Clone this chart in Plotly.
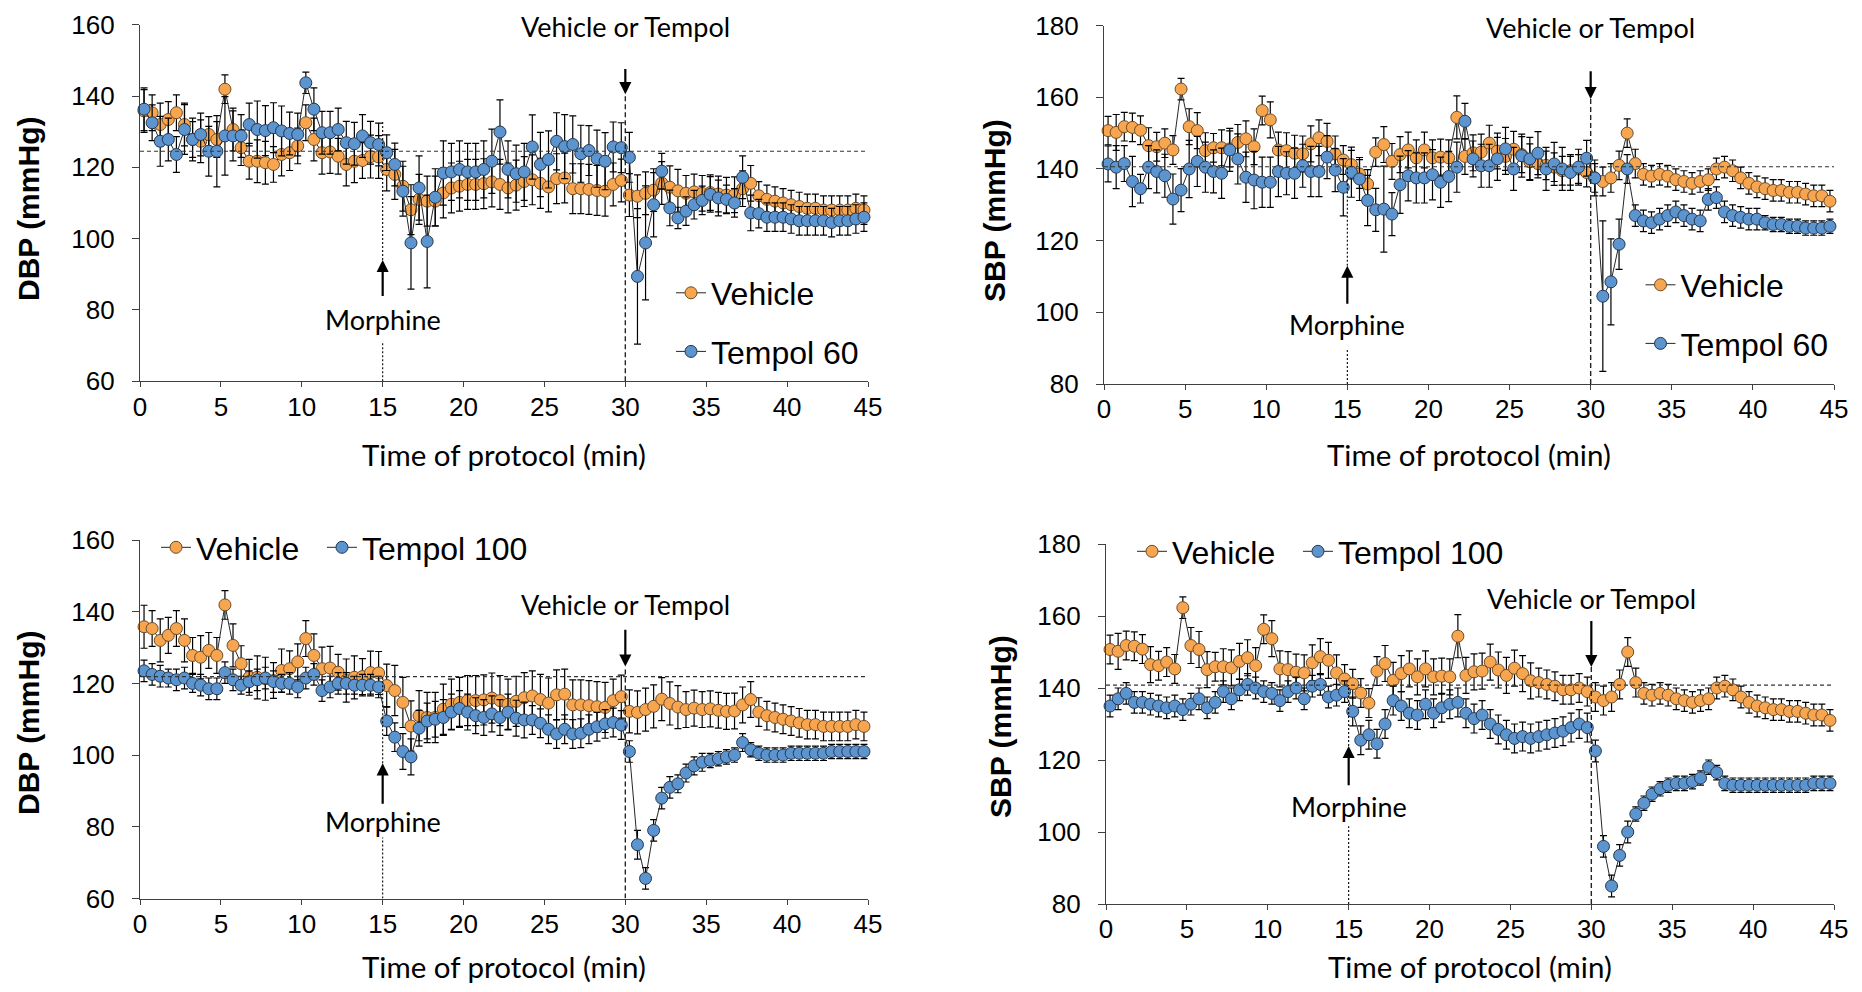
import plotly.graph_objects as go

# ---------------- data ----------------
TIME_MIN = [round(0.25 + 0.5 * i, 2) for i in range(90)]   # sampling grid, 30 s bins
X_TICKS = [0, 5, 10, 15, 20, 25, 30, 35, 40, 45]
MORPHINE_T = 15
TEMPOL_T = 30

VEH_DBP = [135.8, 135.3, 132.0, 133.4, 135.3, 132.0, 127.8, 127.3, 129.2, 127.8,
           141.9, 130.6, 125.5, 121.7, 121.7, 121.3, 120.8, 123.6, 124.1, 126.0,
           132.5, 127.8, 124.1, 124.3, 123.1, 120.8, 121.7, 121.9, 123.0, 122.9,
           119.4, 118.0, 114.7, 108.1, 111.0, 110.5, 110.5, 112.8, 114.2, 114.7,
           115.2, 115.2, 115.4, 115.9, 115.2, 114.2, 115.0, 116.0, 116.5, 115.5,
           114.5, 116.8, 117.0, 114.0, 114.0, 113.8, 113.5, 113.3, 115.2, 116.3,
           112.2, 111.9, 112.7, 113.6, 115.6, 114.4, 113.4, 112.7, 113.1, 112.7,
           112.9, 112.5, 112.2, 112.3, 114.0, 115.5, 112.0, 111.0, 110.5, 110.0,
           109.5, 109.0, 108.5, 108.5, 108.0, 108.0, 108.0, 108.0, 108.5, 108.0]
VEH_DBP_ERR = [6, 5, 6, 5, 5, 6, 5, 6, 5, 5,
               4, 6, 5, 5, 6, 6, 5, 6, 5, 5,
               5, 6, 6, 6, 5, 6, 6, 5, 6, 6,
               6, 7, 7, 7, 7, 7, 7, 7, 7, 7,
               7, 7, 7, 7, 7, 7, 7, 7, 7, 7,
               7, 7, 7, 7, 7, 7, 7, 7, 6, 6,
               6, 6, 6, 6, 6, 6, 6, 5, 5, 5,
               5, 5, 5, 5, 5, 5, 4, 4, 4, 4,
               4, 4, 4, 4, 4, 4, 4, 4, 4, 4]

T60_DBP = [136.3, 132.5, 127.3, 127.8, 123.6, 130.6, 127.8, 129.2, 124.5, 124.5,
           128.8, 128.8, 128.8, 132.0, 130.6, 130.3, 131.1, 130.2, 129.5, 129.2,
           143.7, 136.3, 129.7, 129.7, 130.6, 126.9, 126.6, 128.8, 126.9, 126.4,
           124.1, 120.8, 113.3, 98.8, 114.2, 99.2, 111.6, 118.4, 118.7, 119.4,
           118.7, 118.7, 119.4, 121.7, 129.9, 119.4, 118.2, 118.7, 125.7, 120.8,
           122.2, 127.3, 125.8, 126.4, 123.8, 124.7, 122.4, 121.7, 125.7, 125.5,
           122.8, 89.4, 98.8, 109.5, 118.9, 108.6, 105.8, 107.7, 109.5, 110.7,
           112.4, 111.4, 111.0, 110.0, 117.2, 107.2, 107.0, 106.0, 106.0, 106.0,
           105.5, 105.0, 105.0, 105.0, 105.0, 104.5, 105.0, 105.0, 105.5, 106.0]
T60_DBP_ERR = [6, 5, 7, 6, 5, 7, 6, 6, 7, 10,
               11, 7, 6, 6, 8, 7, 7, 7, 6, 6,
               3, 6, 6, 6, 6, 6, 6, 6, 6, 6,
               5, 6, 7, 13, 9, 13, 8, 9, 8, 8,
               8, 8, 8, 9, 9, 8, 8, 8, 9, 9,
               8, 8, 9, 8, 8, 7, 8, 8, 7, 7,
               7, 19, 16, 9, 5, 5, 3, 4, 4, 4,
               5, 5, 4, 4, 6, 5, 4, 4, 4, 4,
               4, 4, 4, 4, 4, 4, 4, 4, 4, 4]

VEH_SBP = [150.7, 150.2, 151.8, 151.6, 150.8, 146.5, 146.2, 147.2, 145.3, 162.3,
           151.8, 150.7, 145.1, 145.9, 145.9, 145.6, 147.4, 148.4, 146.2, 156.3,
           153.7, 145.3, 145.1, 144.4, 144.2, 147.0, 148.7, 147.7, 144.2, 142.5,
           141.2, 138.6, 135.8, 144.7, 146.8, 142.1, 144.0, 145.3, 143.1, 145.3,
           143.1, 143.3, 143.1, 154.4, 143.5, 144.5, 144.7, 147.2, 145.0, 143.5,
           145.5, 144.0, 142.0, 141.5, 141.0, 140.5, 139.5, 139.5, 140.0, 139.0,
           137.5, 136.5, 137.5, 141.0, 150.0, 141.5, 138.5, 138.0, 138.5, 138.0,
           137.0, 136.5, 136.0, 136.5, 137.0, 140.0, 140.5, 139.5, 137.5, 136.0,
           135.0, 134.5, 134.0, 134.0, 133.5, 133.5, 133.0, 132.5, 132.5, 131.0]
VEH_SBP_ERR = [4, 5, 4, 4, 4, 5, 4, 4, 4, 3,
               5, 5, 5, 4, 5, 5, 5, 5, 5, 4,
               5, 5, 5, 5, 5, 5, 5, 5, 5, 4,
               4, 4, 4, 4, 5, 5, 5, 5, 5, 5,
               5, 5, 5, 6, 5, 5, 5, 5, 5, 5,
               5, 5, 5, 4, 4, 4, 4, 4, 4, 4,
               4, 4, 4, 4, 4, 4, 3, 3, 3, 3,
               3, 3, 3, 3, 3, 3, 3, 3, 3, 3,
               3, 3, 3, 3, 3, 3, 3, 3, 3, 3]

T60_SBP = [141.4, 140.5, 141.5, 136.5, 134.5, 140.5, 139.3, 138.1, 131.6, 134.1,
           140.0, 142.1, 140.5, 139.3, 138.8, 145.3, 142.8, 137.7, 136.9, 136.3,
           136.3, 139.3, 138.8, 138.8, 140.9, 139.3, 139.3, 143.3, 139.7, 134.9,
           139.1, 137.2, 131.2, 128.6, 128.8, 127.4, 135.6, 138.1, 137.5, 137.5,
           138.4, 136.3, 137.9, 140.5, 153.3, 142.8, 140.9, 140.9, 142.8, 145.6,
           140.0, 143.7, 142.8, 144.4, 140.0, 141.4, 140.0, 139.0, 140.5, 143.0,
           137.5, 104.5, 108.5, 119.0, 140.0, 127.0, 125.5, 125.0, 126.0, 127.0,
           128.0, 127.0, 126.0, 125.5, 131.5, 132.0, 128.0, 127.0, 126.5, 126.0,
           126.0, 125.0, 124.5, 124.5, 124.0, 124.0, 123.5, 123.5, 123.5, 124.0]
T60_SBP_ERR = [5, 6, 5, 7, 4, 6, 6, 6, 7, 6,
               8, 7, 7, 6, 7, 6, 7, 7, 8, 7,
               7, 7, 6, 7, 6, 7, 7, 6, 6, 8,
               7, 6, 7, 6, 12, 6, 8, 7, 7, 7,
               7, 7, 7, 7, 5, 5, 6, 6, 6, 6,
               6, 6, 6, 6, 6, 6, 6, 5, 5, 5,
               5, 21, 12, 7, 4, 3, 3, 3, 3, 3,
               3, 3, 3, 3, 3, 3, 3, 3, 3, 3,
               3, 2, 2, 2, 2, 2, 2, 2, 2, 2]

T100_DBP = [123.5, 122.5, 122.0, 121.5, 121.0, 121.5, 120.0, 119.5, 118.5, 118.5,
            123.0, 121.0, 119.5, 120.5, 121.0, 121.5, 120.5, 120.0, 120.0, 119.0,
            121.5, 122.5, 118.0, 119.0, 120.0, 120.0, 119.5, 119.5, 119.5, 119.0,
            109.5, 105.0, 101.0, 99.5, 107.5, 109.5, 110.0, 110.5, 112.0, 113.0,
            112.0, 111.0, 110.5, 111.5, 110.5, 112.0, 110.3, 109.8, 109.8, 108.9,
            107.2, 105.9, 107.2, 105.9, 106.1, 107.2, 107.9, 108.7, 109.1, 108.4,
            101.0, 75.0, 65.6, 79.0, 88.0, 91.0, 92.0, 95.0, 97.0, 98.0,
            98.5, 99.0, 99.5, 100.0, 103.5, 101.5, 100.5, 100.0, 100.0, 100.0,
            100.5, 100.5, 100.5, 100.5, 100.5, 101.0, 101.0, 101.0, 101.0, 101.0]
T100_DBP_ERR = [3, 3, 3, 2.5, 3, 3, 2.5, 3, 3, 3,
                3, 3, 2.5, 3, 3, 3, 3, 2.5, 3, 3,
                3, 3, 3, 3, 3, 3, 2.5, 3, 3, 3,
                4, 4, 5, 5, 5, 5, 5, 5, 5, 5,
                5, 5, 5, 5, 5, 5, 5, 5, 4, 4,
                4, 4, 4, 4, 4, 4, 4, 4, 4, 4,
                3, 4, 3, 3, 3, 3, 2.5, 2.5, 2.5, 2.5,
                2, 2, 2, 2, 2.5, 2, 2, 2, 2, 2,
                2, 2, 2, 2, 2, 2, 2, 2, 2, 2]

T100_SBP = [135.0, 137.0, 138.5, 136.0, 136.0, 135.5, 135.0, 134.5, 135.0, 134.0,
            135.5, 137.0, 134.5, 136.0, 139.0, 137.0, 139.5, 141.0, 140.0, 139.0,
            138.5, 136.5, 139.0, 140.0, 137.0, 140.5, 141.0, 137.5, 138.0, 139.0,
            133.5, 125.5, 127.0, 124.5, 130.0, 136.5, 135.0, 133.0, 132.5, 135.5,
            133.0, 134.5, 135.5, 136.0, 133.0, 131.5, 132.5, 130.0, 128.5, 127.0,
            126.0, 126.5, 126.0, 126.5, 127.0, 127.5, 128.0, 129.0, 130.0, 129.0,
            122.5, 96.0, 85.0, 93.5, 100.0, 105.0, 108.0, 110.5, 112.0, 113.0,
            113.5, 113.5, 114.0, 115.0, 118.0, 116.5, 113.5, 113.0, 113.0, 113.0,
            113.0, 113.0, 113.0, 113.0, 113.0, 113.0, 113.0, 113.5, 113.5, 113.5]
T100_SBP_ERR = [3, 3, 3, 3, 3, 3, 3, 3, 3, 3,
                3, 3, 3, 3, 3, 3, 3, 3, 3, 3,
                3, 3, 3, 3, 3, 3, 3, 3, 3, 3,
                4, 4, 4, 4, 4, 4, 4, 4, 4, 4,
                4, 4, 4, 4, 4, 4, 4, 4, 4, 4,
                4, 4, 4, 4, 4, 4, 4, 4, 4, 4,
                3, 3, 3, 3, 3, 2, 2, 2, 2, 2,
                2, 2, 2, 2, 2, 2, 2, 2, 2, 2,
                2, 2, 2, 2, 2, 2, 2, 2, 2, 2]

# ---------------- styling / layout ----------------
PAGE_W, PAGE_H = 1862, 992
BODY_MARGIN = 8                       # default page margin around the plot div
W, H = PAGE_W - 2 * BODY_MARGIN, PAGE_H - 2 * BODY_MARGIN
ORANGE, ORANGE_EDGE = '#F8A54F', '#6b4c2a'
BLUE, BLUE_EDGE = '#5B94CF', '#26384d'
AX_FONT = 'Liberation Sans, Arial, sans-serif'
NOTE_FONT = 'Lato, Open Sans, sans-serif'
NBSP = '\u00a0'


def px_x(p):
    return (p - BODY_MARGIN) / W


def px_y(p):
    return 1 - (p - BODY_MARGIN) / H


panels = [
    dict(ax='', ylab='DBP (mmHg)', yr=[60, 160], xdom=[140, 868], ydom=[381.2, 24.7],
         veh=VEH_DBP, veh_err=VEH_DBP_ERR, tem=T60_DBP, tem_err=T60_DBP_ERR, tem_name='Tempol 60',
         veh_name='Vehicle',
         legend='legend', base=124.5, m_top=133, m_head=94, m_tail=83.5, m_text=77.2, m_low=71,
         v_text=159.6, v_tail=148, v_head=140.5, ylab_pos=(28, 209), xlab_y=455),
    dict(ax='2', ylab='SBP (mmHg)', yr=[80, 180], xdom=[1104, 1834], ydom=[384, 25.6],
         veh=VEH_SBP, veh_err=VEH_SBP_ERR, tem=T60_SBP, tem_err=T60_SBP_ERR, tem_name='Tempol 60',
         veh_name='Vehicle',
         legend='legend2', base=140.6, m_top=141, m_head=113, m_tail=102, m_text=96.6, m_low=90,
         v_text=179.6, v_tail=167.7, v_head=159.5, ylab_pos=(995, 211), xlab_y=455),
    dict(ax='3', ylab='DBP (mmHg)', yr=[60, 160], xdom=[140, 868], ydom=[898.5, 540],
         veh=VEH_DBP, veh_err=VEH_DBP_ERR, tem=T100_DBP, tem_err=T100_DBP_ERR, tem_name='Tempol 100',
         veh_name='Vehicle' + NBSP * 2,
         legend='legend3', base=121.9, m_top=121.9, m_head=97.7, m_tail=86, m_text=81.5, m_low=77,
         v_text=142.1, v_tail=135.4, v_head=124.7, ylab_pos=(28, 723), xlab_y=966),
    dict(ax='4', ylab='SBP (mmHg)', yr=[80, 180], xdom=[1106, 1834], ydom=[904, 544],
         veh=VEH_SBP, veh_err=VEH_SBP_ERR, tem=T100_SBP, tem_err=T100_SBP_ERR, tem_name='Tempol 100',
         veh_name='Vehicle' + NBSP * 2,
         legend='legend4', base=140.8, m_top=140.8, m_head=123.9, m_tail=112.6, m_text=107.2, m_low=101.6,
         v_text=165, v_tail=159, v_head=145.8, ylab_pos=(1000, 726), xlab_y=966),
]

fig = go.Figure()
shapes, annotations = [], []
layout_axes = {}

for i, p in enumerate(panels):
    xa, ya = 'x' + p['ax'], 'y' + p['ax']
    for name, vals, err, fill, edge in [(p['veh_name'], p['veh'], p['veh_err'], ORANGE, ORANGE_EDGE),
                                        (p['tem_name'], p['tem'], p['tem_err'], BLUE, BLUE_EDGE)]:
        fig.add_trace(go.Scatter(
            x=TIME_MIN, y=vals, mode='lines+markers', name=name,
            xaxis=xa, yaxis=ya, legend=p['legend'], legendgroup=f'{i}-{name}',
            line=dict(color='#262626', width=1),
            marker=dict(size=12, color=fill, line=dict(color=edge, width=1)),
            error_y=dict(type='data', array=err, visible=True, color='black', thickness=1.2, width=3.5),
            cliponaxis=False,
        ))

    axis_common = dict(showgrid=False, zeroline=False, showline=True, linecolor='#404040', linewidth=1.3,
                       ticks='outside', tickcolor='#404040', tickwidth=1.3, automargin=False,
                       ticklabeloverflow='allow',
                       tickfont=dict(family=AX_FONT, size=26, color='black'))
    layout_axes['xaxis' + p['ax']] = dict(axis_common, domain=[px_x(p['xdom'][0]), px_x(p['xdom'][1])],
                                          range=[0, 45], tickvals=X_TICKS, anchor=ya, ticklen=5,
                                          ticklabelstandoff=-3)
    layout_axes['yaxis' + p['ax']] = dict(axis_common, domain=[px_y(p['ydom'][0]), px_y(p['ydom'][1])],
                                          range=p['yr'], dtick=20, anchor=xa, ticklen=7, ticklabelstandoff=12)

    # baseline (dashed horizontal)
    shapes.append(dict(type='line', xref=xa, yref=ya, x0=0, x1=45, y0=p['base'], y1=p['base'],
                       line=dict(color='#333333', width=1.1, dash='4px,3px')))
    # morphine dotted line (two segments) and arrow
    shapes.append(dict(type='line', xref=xa, yref=ya, x0=MORPHINE_T, x1=MORPHINE_T, y0=p['yr'][0], y1=p['m_low'],
                       line=dict(color='black', width=1.1, dash='2px,2px')))
    shapes.append(dict(type='line', xref=xa, yref=ya, x0=MORPHINE_T, x1=MORPHINE_T, y0=p['m_head'], y1=p['m_top'],
                       line=dict(color='black', width=1.1, dash='2px,2px')))
    annotations.append(dict(xref=xa, yref=ya, axref=xa, ayref=ya, x=MORPHINE_T, y=p['m_head'],
                            ax=MORPHINE_T, ay=p['m_tail'], text='', showarrow=True, arrowhead=2,
                            arrowsize=1.1, arrowwidth=2.2, arrowcolor='black'))
    annotations.append(dict(xref=xa, yref=ya, x=MORPHINE_T, y=p['m_text'], text='Morphine', showarrow=False,
                            font=dict(family=NOTE_FONT, size=27, color='black'), xanchor='center', yanchor='middle'))
    # tempol dashed line and arrow
    shapes.append(dict(type='line', xref=xa, yref=ya, x0=TEMPOL_T, x1=TEMPOL_T, y0=p['yr'][0], y1=p['v_head'],
                       line=dict(color='#222222', width=1.4, dash='5px,3px')))
    annotations.append(dict(xref=xa, yref=ya, axref=xa, ayref=ya, x=TEMPOL_T, y=p['v_head'],
                            ax=TEMPOL_T, ay=p['v_tail'], text='', showarrow=True, arrowhead=2,
                            arrowsize=1.1, arrowwidth=2.2, arrowcolor='black'))
    annotations.append(dict(xref=xa, yref=ya, x=TEMPOL_T, y=p['v_text'], text='Vehicle or Tempol', showarrow=False,
                            font=dict(family=NOTE_FONT, size=27, color='black'), xanchor='center', yanchor='middle'))
    # axis titles
    annotations.append(dict(xref='paper', yref='paper', x=px_x(p['ylab_pos'][0]), y=px_y(p['ylab_pos'][1]),
                            text='<b>' + p['ylab'] + '</b>', textangle=-90, showarrow=False,
                            font=dict(family=AX_FONT, size=30, color='black'), xanchor='center', yanchor='middle'))
    annotations.append(dict(xref='paper', yref='paper', x=px_x((p['xdom'][0] + p['xdom'][1]) / 2),
                            y=px_y(p['xlab_y']), text='Time of protocol (min)', showarrow=False,
                            font=dict(family=NOTE_FONT, size=29.5, color='black'), xanchor='center', yanchor='middle'))

legend_font = dict(family=AX_FONT, size=32, color='black')
legend_v = dict(orientation='v', xanchor='left', yanchor='top', font=legend_font,
                bgcolor='rgba(0,0,0,0)', tracegroupgap=14, traceorder='grouped')
legend_h = dict(orientation='h', xanchor='left', yanchor='top', font=legend_font,
                bgcolor='rgba(0,0,0,0)')

fig.update_layout(
    width=W, height=H, margin=dict(l=0, r=0, t=0, b=0, pad=0, autoexpand=False),
    paper_bgcolor='white', plot_bgcolor='white',
    showlegend=True,
    legend=dict(legend_v, x=px_x(671), y=px_y(265.5)),
    legend2=dict(legend_v, x=px_x(1640.5), y=px_y(257.5)),
    legend3=dict(legend_h, x=px_x(156), y=px_y(520)),
    legend4=dict(legend_h, x=px_x(1132), y=px_y(524)),
    shapes=shapes, annotations=annotations,
    **layout_axes,
)

fig.write_html('out.html')
